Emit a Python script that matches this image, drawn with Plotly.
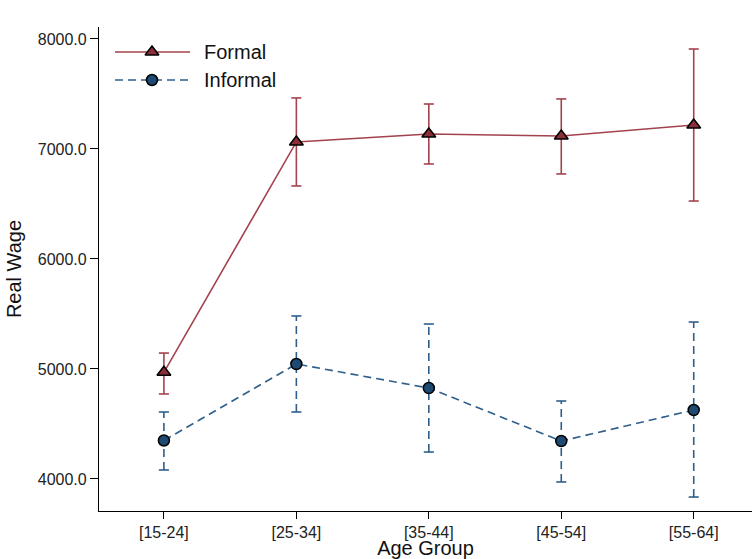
import plotly.graph_objects as go

# Age groups and mean real wage with 95% confidence bounds
age_groups = ["[15-24]", "[25-34]", "[35-44]", "[45-54]", "[55-64]"]

formal_mean = [4970, 7064, 7136, 7118, 7218]
formal_lo = [4773, 6664, 6864, 6773, 6527]
formal_hi = [5145, 7464, 7409, 7455, 7909]

informal_mean = [4350, 5045, 4827, 4345, 4627]
informal_lo = [4082, 4609, 4245, 3973, 3836]
informal_hi = [4609, 5482, 5409, 4709, 5427]

y_ticks = [4000, 5000, 6000, 7000, 8000]

RED = "#a3434d"
RED_FILL = "#8c2e39"
BLUE = "#2f5f8a"
BLUE_FILL = "#1d4a72"
FONT = "Liberation Sans, Arial, sans-serif"

xs = list(range(len(age_groups)))
cap = 0.038

fig = go.Figure()


def add_ci(lo, hi, color, dash):
    for x, a, b in zip(xs, lo, hi):
        fig.add_trace(go.Scatter(x=[x, x], y=[a, b], mode="lines",
                                 line=dict(color=color, width=1.6, dash=dash),
                                 hoverinfo="skip", showlegend=False))
        for v in (a, b):
            fig.add_trace(go.Scatter(x=[x - cap, x + cap], y=[v, v], mode="lines",
                                     line=dict(color=color, width=1.6),
                                     hoverinfo="skip", showlegend=False))


add_ci(formal_lo, formal_hi, RED, "solid")
add_ci(informal_lo, informal_hi, BLUE, "8px,5px")

fig.add_trace(go.Scatter(
    x=xs, y=formal_mean, mode="lines+markers", name="Formal",
    line=dict(color=RED, width=1.6),
    marker=dict(symbol="triangle-up", size=12, color=RED_FILL,
                line=dict(color="black", width=1.5)),
    showlegend=False))
fig.add_trace(go.Scatter(
    x=xs, y=informal_mean, mode="lines+markers", name="Informal",
    line=dict(color=BLUE, width=1.6, dash="8px,5px"),
    marker=dict(symbol="circle", size=11, color=BLUE_FILL,
                line=dict(color="black", width=1.5)),
    showlegend=False))

# Legend drawn on an overlay axis measured in pixels from the plot's top-left
legend_rows = [("Formal", RED, RED_FILL, "triangle-up", "solid", 12),
               ("Informal", BLUE, BLUE_FILL, "circle", "8px,5px", 11)]
for i, (label, lc, fc, sym, dash, sz) in enumerate(legend_rows):
    ly = 25 + 28 * i
    fig.add_trace(go.Scatter(x=[16, 91], y=[ly, ly], mode="lines",
                             line=dict(color=lc, width=1.6, dash=dash),
                             xaxis="x2", yaxis="y2", showlegend=False, hoverinfo="skip"))
    fig.add_trace(go.Scatter(x=[53], y=[ly], mode="markers",
                             marker=dict(symbol=sym, size=sz, color=fc,
                                         line=dict(color="black", width=1.5)),
                             xaxis="x2", yaxis="y2", showlegend=False, hoverinfo="skip"))
    fig.add_annotation(x=103, y=ly, xref="x2", yref="y2", text=label,
                       showarrow=False, xanchor="left", yanchor="middle",
                       font=dict(family=FONT, size=20, color="#111"))

fig.update_layout(
    width=752, height=559,
    margin=dict(l=99, r=0, t=27, b=48),
    paper_bgcolor="white", plot_bgcolor="white",
    font=dict(family=FONT, color="#222"),
    showlegend=False,
    xaxis=dict(
        range=[-0.49, 4.44], tickmode="array", tickvals=xs, ticktext=age_groups,
        showgrid=False, zeroline=False, showline=True, linecolor="black", linewidth=1.2,
        ticks="outside", ticklen=7, tickcolor="black", tickwidth=1,
        tickfont=dict(size=16, family=FONT, color="#222"),
        title=dict(text="Age Group", font=dict(size=20, family=FONT, color="#111"), standoff=1),
    ),
    yaxis=dict(
        range=[3709, 8109], tickmode="array", tickvals=y_ticks, tickformat=".1f",
        showgrid=False, zeroline=False, showline=True, linecolor="black", linewidth=1.2,
        ticks="outside", ticklen=8, tickcolor="black", tickwidth=1,
        tickfont=dict(size=16, family=FONT, color="#222"),
        title=dict(text="Real Wage", font=dict(size=20, family=FONT, color="#111"), standoff=10),
    ),
    xaxis2=dict(overlaying="x", range=[0, 653], visible=False, fixedrange=True),
    yaxis2=dict(overlaying="y", range=[484, 0], visible=False, fixedrange=True),
)

fig.write_html("out.html")
